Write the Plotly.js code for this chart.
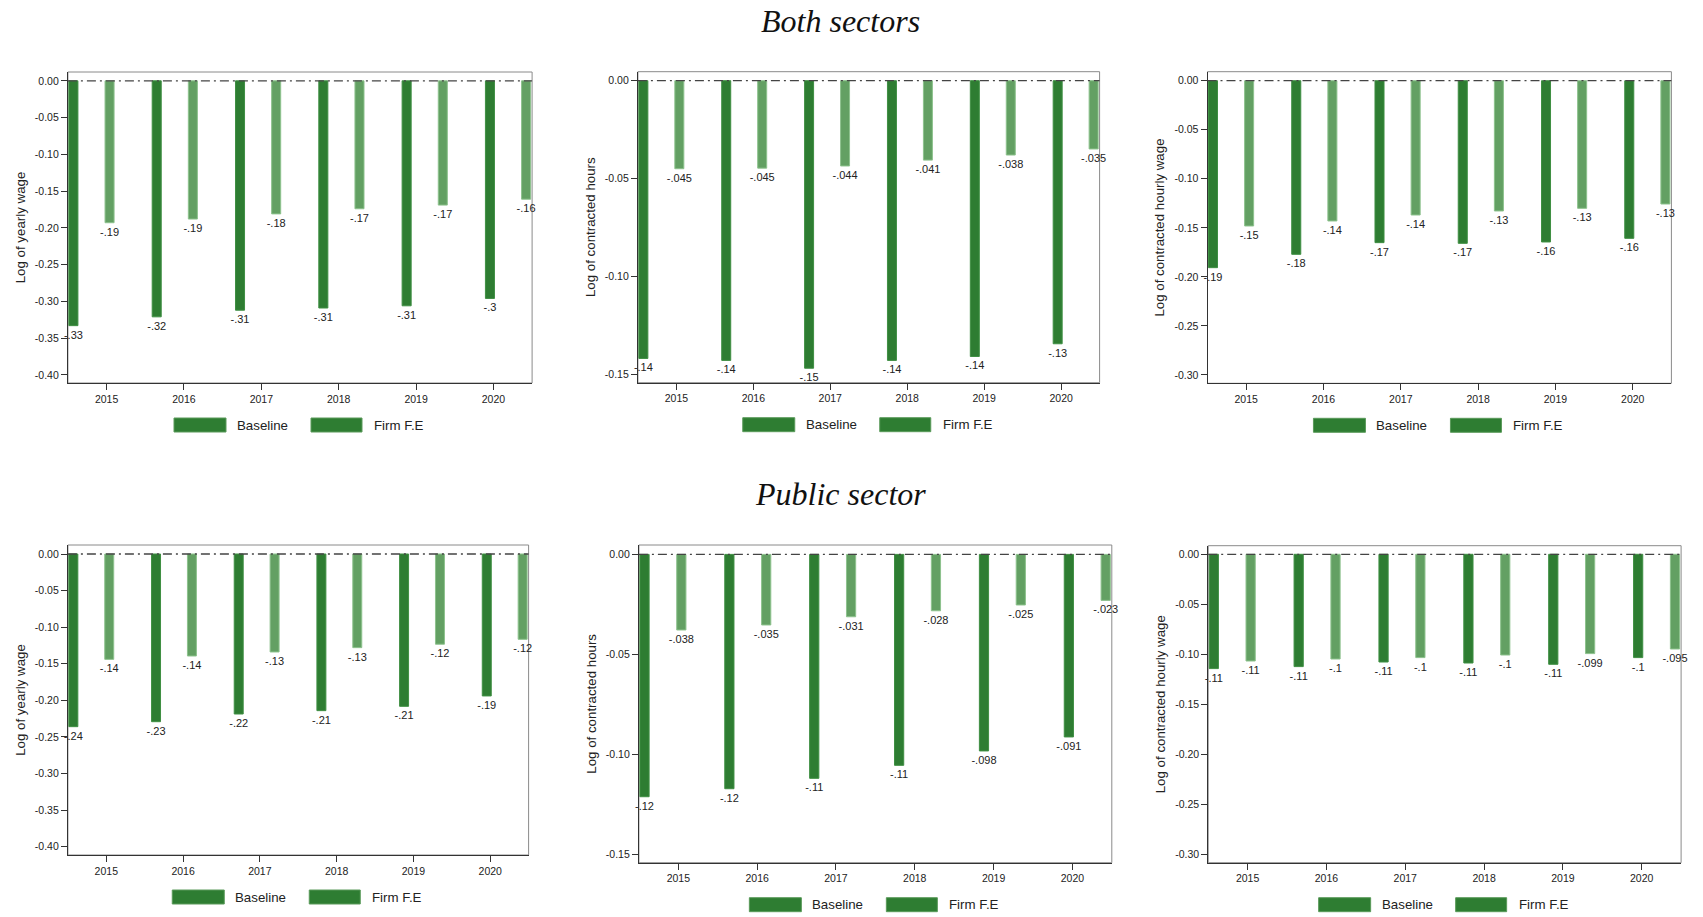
<!DOCTYPE html>
<html>
<head>
<meta charset="utf-8">
<script src="https://cdn.plot.ly/plotly-3.0.1.min.js"></script>
<style>
  html, body { margin: 0; padding: 0; background: #ffffff; }
  #chart { width: 1703px; height: 917px; }
</style>
</head>
<body>
<div id="chart"></div>
<script>
// ---------------- DATA ----------------
const years = ['2015', '2016', '2017', '2018', '2019', '2020'];
const seriesNames = ['Baseline', 'Firm F.E'];

// Both sectors
const bothYearlyBase = [-0.333, -0.321, -0.312, -0.309, -0.306, -0.296];
const bothYearlyFirm = [-0.193, -0.188, -0.181, -0.174, -0.169, -0.161];
const bothHoursBase = [-0.142, -0.143, -0.147, -0.143, -0.141, -0.1345];
const bothHoursFirm = [-0.045, -0.0447, -0.0436, -0.0406, -0.038, -0.0349];
const bothHourlyBase = [-0.1906, -0.177, -0.1651, -0.1658, -0.1644, -0.1607];
const bothHourlyFirm = [-0.1481, -0.143, -0.1369, -0.1328, -0.1301, -0.1257];

// Public sector
const pubYearlyBase = [-0.236, -0.2292, -0.2187, -0.2141, -0.2082, -0.194];
const pubYearlyFirm = [-0.144, -0.1394, -0.1339, -0.128, -0.1233, -0.1166];
const pubHoursBase = [-0.1212, -0.1172, -0.112, -0.1055, -0.0983, -0.0913];
const pubHoursFirm = [-0.0378, -0.0353, -0.0312, -0.0282, -0.0253, -0.023];
const pubHourlyBase = [-0.1143, -0.1123, -0.1077, -0.1087, -0.11, -0.1033];
const pubHourlyFirm = [-0.1067, -0.1047, -0.1033, -0.1007, -0.0993, -0.0947];

// Y tick values
const yearlyTicks = [0, -0.05, -0.10, -0.15, -0.20, -0.25, -0.30, -0.35, -0.40];
const hoursTicks = [0, -0.05, -0.10, -0.15];
const hourlyTicks = [0, -0.05, -0.10, -0.15, -0.20, -0.25, -0.30];

const yTitles = ['Log of yearly wage', 'Log of contracted hours', 'Log of contracted hourly wage'];
const sectionTitles = ['Both sectors', 'Public sector'];

// ---------------- STYLE / LAYOUT ----------------
const W = 1703, H = 917;
const FONT = 'Liberation Sans, Arial, Helvetica, sans-serif';
const baseColor = '#2e7d32';
const baseLine = '#3f8f43';
const firmColor = '#63a063';
const firmLine = '#8dc28d';

const panels = [
  { base: bothYearlyBase, firm: bothYearlyFirm, title: yTitles[0], ticks: yearlyTicks, range: [-0.411, 0.012], px: [67.9, 532.1], py: [72, 383] },
  { base: bothHoursBase, firm: bothHoursFirm, title: yTitles[1], ticks: hoursTicks, range: [-0.1544, 0.0046], px: [637.9, 1099.6], py: [71.7, 382.7] },
  { base: bothHourlyBase, firm: bothHourlyFirm, title: yTitles[2], ticks: hourlyTicks, range: [-0.3085, 0.0092], px: [1207.5, 1671.4], py: [71.7, 383.3] },
  { base: pubYearlyBase, firm: pubYearlyFirm, title: yTitles[0], ticks: yearlyTicks, range: [-0.4114, 0.0123], px: [67.9, 528.6], py: [545, 855] },
  { base: pubHoursBase, firm: pubHoursFirm, title: yTitles[1], ticks: hoursTicks, range: [-0.1542, 0.0047], px: [638.9, 1111.8], py: [545, 862.7] },
  { base: pubHourlyBase, firm: pubHourlyFirm, title: yTitles[2], ticks: hourlyTicks, range: [-0.3084, 0.0086], px: [1208.2, 1681.1], py: [545.7, 862.7] }
];

function fmtLabel(v) {
  const s = Number(v.toPrecision(2)).toString();
  return s.replace('0.', '.');
}
const fx = p => p / W;
const fy = p => 1 - p / H;

const data = [];
const layout = {
  width: W, height: H, autosize: false,
  margin: { l: 0, r: 0, t: 0, b: 0, pad: 0 },
  paper_bgcolor: '#ffffff', plot_bgcolor: '#ffffff',
  font: { family: FONT, color: '#222222', size: 10.5 },
  barmode: 'group', bargap: 0.132, bargroupgap: 0.75,
  showlegend: false,
  shapes: [], annotations: []
};

panels.forEach((p, i) => {
  const n = i + 1;
  const xs = n === 1 ? '' : String(n);
  const xId = 'x' + xs, yId = 'y' + xs;
  const tId = 'x' + (n + 6);

  [p.base, p.firm].forEach((vals, k) => {
    data.push({
      type: 'bar', x: years, y: vals, name: seriesNames[k],
      xaxis: xId, yaxis: yId,
      marker: { color: k === 0 ? baseColor : firmColor, line: { color: k === 0 ? baseLine : firmLine, width: 1 } },
      text: vals.map(fmtLabel), textposition: 'outside', constraintext: 'none',
      textfont: { family: FONT, size: 11, color: '#222222' },
      cliponaxis: false, hoverinfo: 'x+y', showlegend: false
    });
  });
  // carrier for the category tick axis
  data.push({
    type: 'scatter', mode: 'markers', x: years, y: years.map(() => 0),
    xaxis: tId, yaxis: yId, marker: { opacity: 0, size: 1 }, hoverinfo: 'skip', showlegend: false
  });

  layout['xaxis' + xs] = {
    domain: [fx(p.px[0]), fx(p.px[1])], anchor: yId, type: 'category',
    range: [-0.283, 5.289], showticklabels: false, ticks: '', showline: false,
    showgrid: false, zeroline: false, fixedrange: true
  };
  layout['xaxis' + (n + 6)] = {
    overlaying: xId, anchor: yId, side: 'bottom', type: 'category',
    range: [-0.5, 5.5], showline: true, linecolor: '#333333', linewidth: 1,
    ticks: 'outside', ticklen: 6, tickcolor: '#333333', tickwidth: 1,
    tickfont: { family: FONT, size: 10.5, color: '#222222' },
    showgrid: false, zeroline: false, fixedrange: true
  };
  layout['yaxis' + xs] = {
    domain: [fy(p.py[1]), fy(p.py[0])], anchor: xId,
    range: p.range, tickvals: p.ticks, ticktext: p.ticks.map(t => t.toFixed(2)),
    ticks: 'outside', ticklen: 6, tickcolor: '#333333', tickwidth: 1,
    tickfont: { family: FONT, size: 10.5, color: '#222222' },
    showline: true, linecolor: '#333333', linewidth: 1,
    showgrid: false, zeroline: false, fixedrange: true,
    title: { text: p.title, font: { family: FONT, size: 13.3, color: '#222222' }, standoff: 6 }
  };

  // frame
  layout.shapes.push({
    type: 'rect', xref: xId + ' domain', yref: yId + ' domain', x0: 0, x1: 1, y0: 0, y1: 1,
    line: { color: '#8a8a8a', width: 1 }, layer: 'below'
  });
  // reference line at zero
  layout.shapes.push({
    type: 'line', xref: xId + ' domain', yref: yId, x0: 0, x1: 1, y0: 0, y1: 0,
    line: { color: '#444444', width: 1.3, dash: '9px,4px,2px,4px' }, layer: 'above'
  });

  // legend (custom wide keys)
  const cx = (p.px[0] + p.px[1]) / 2;
  const cy = p.py[1] + 42;
  const keys = [[-126, -74, -65], [11, 62, 72]];
  keys.forEach((kk, k) => {
    layout.shapes.push({
      type: 'rect', xref: 'paper', yref: 'paper',
      x0: fx(cx + kk[0]), x1: fx(cx + kk[1]), y0: fy(cy + 7), y1: fy(cy - 7),
      fillcolor: baseColor, line: { color: '#5a9a5a', width: 1 }
    });
    layout.annotations.push({
      xref: 'paper', yref: 'paper', x: fx(cx + kk[2]), y: fy(cy),
      xanchor: 'left', yanchor: 'middle', showarrow: false,
      text: seriesNames[k], font: { family: FONT, size: 13.3, color: '#222222' }
    });
  });
});

// section titles
[[840, 21], [840, 494]].forEach((pos, k) => {
  layout.annotations.push({
    xref: 'paper', yref: 'paper', x: fx(pos[0]), y: fy(pos[1]),
    xanchor: 'center', yanchor: 'middle', showarrow: false,
    text: '<i>' + sectionTitles[k] + '</i>',
    font: { family: 'Liberation Serif, Times New Roman, serif', size: 32, color: '#111111' }
  });
});

Plotly.newPlot('chart', data, layout, { staticPlot: true, displayModeBar: false });
</script>
</body>
</html>
